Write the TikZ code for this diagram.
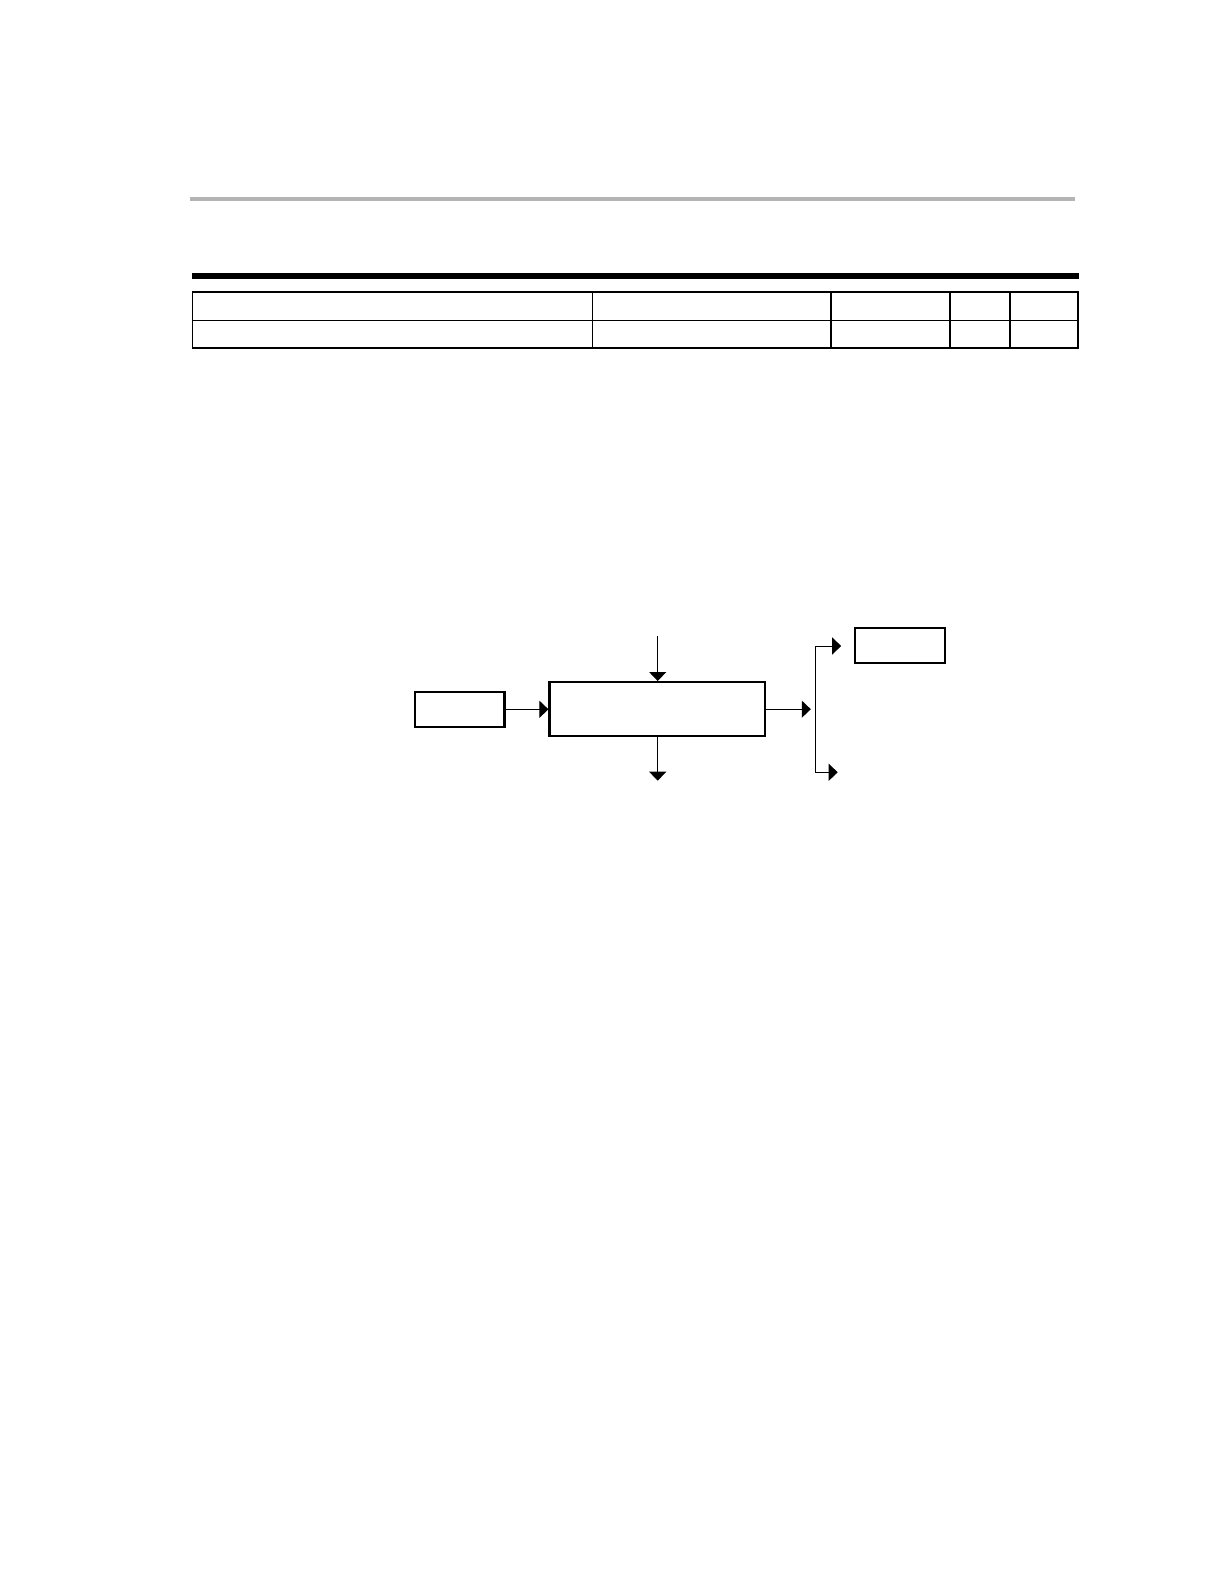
\documentclass[tikz,border=0pt]{standalone}
\usetikzlibrary{arrows.meta}
\definecolor{rulegray}{HTML}{B4B4B4}
\tikzset{
  blockbox/.style={draw=black, line width=2.3pt, rectangle, inner sep=0pt, fill=white},
  arr/.style={line width=1pt, -{Triangle[length=9pt,width=17pt]}},
  plainline/.style={line width=1pt},
  tableline/.style={line width=1.6pt},
}
\begin{document}
\begin{tikzpicture}[x=1pt,y=-1pt]
\useasboundingbox (0,0) rectangle (1224,1584);
\fill[white] (0,0) rectangle (1224,1584);
% header rules
\draw[line width=4pt, rulegray] (190,198.7) -- (1075,198.7);
\draw[line width=5.7pt, black] (192,276.2) -- (1079,276.2);
% table
\draw[tableline] (192.5,292) rectangle (1077.7,347.7);
\draw[tableline] (192.5,320.5) -- (1077.7,320.5);
\draw[tableline] (592.3,292) -- (592.3,347.7);
\draw[line width=2pt] (830.7,292) -- (830.7,347.7);
\draw[tableline] (950,292) -- (950,347.7);
\draw[tableline] (1009.7,292) -- (1009.7,347.7);
% diagram
\node[blockbox, minimum width=89.3pt, minimum height=35.3pt] (leftbox) at (459.7,709.3) {};
\node[blockbox, minimum width=215.7pt, minimum height=54.1pt] (mainbox) at (657.4,709.2) {};
\node[blockbox, minimum width=90pt, minimum height=35pt] (rightbox) at (900.3,645.5) {};
\coordinate (topin) at (657.7,636);
\coordinate (botout) at (657.7,780.7);
\coordinate (junc) at (815.3,709.2);
\coordinate (upj) at (815.3,646);
\coordinate (lowj) at (815.3,772.3);
\coordinate (lowend) at (837.7,772.3);
\draw[arr] (leftbox.east) -- (leftbox.east -| mainbox.west);
\draw[arr] (topin) -- (topin |- mainbox.north);
\draw[arr] (botout |- mainbox.south) -- (botout);
\draw[arr, shorten >=4.5pt] (mainbox.east) -- (junc);
\draw[plainline] (upj) -- (lowj);
\draw[arr, shorten >=13pt] (upj) -- (upj -| rightbox.west);
\draw[arr] (lowj) -- (lowend);
\end{tikzpicture}
\end{document}
